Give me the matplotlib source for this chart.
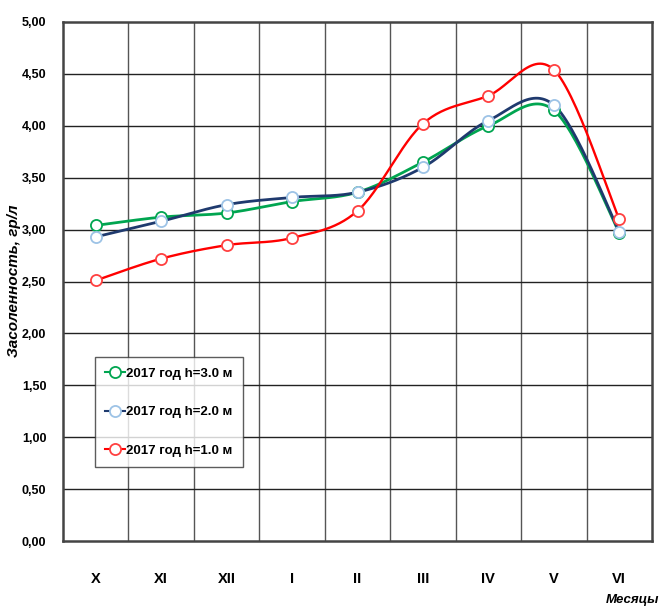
import numpy as np
import matplotlib
matplotlib.use("Agg")
import matplotlib.pyplot as plt
from matplotlib.lines import Line2D

months = ["X", "XI", "XII", "I", "II", "III", "IV", "V", "VI"]
h30 = [3.04, 3.12, 3.16, 3.27, 3.36, 3.65, 4.00, 4.15, 2.97]
h20 = [2.93, 3.08, 3.24, 3.31, 3.36, 3.60, 4.05, 4.20, 2.98]
h10 = [2.51, 2.72, 2.85, 2.92, 3.18, 4.02, 4.29, 4.54, 3.10]
labels = ["2017 год h=3.0 м", "2017 год h=2.0 м", "2017 год h=1.0 м"]
yticks = [0, 0.5, 1, 1.5, 2, 2.5, 3, 3.5, 4, 4.5, 5]

plt.rcParams['font.family'] = ['Liberation Sans Narrow', 'Liberation Sans', 'DejaVu Sans']


def smooth(x, y, n=30):
    x = np.asarray(x, float); y = np.asarray(y, float)
    P = np.column_stack([x, y])
    out = []
    for i in range(len(P) - 1):
        p0 = P[i - 1] if i > 0 else P[i]
        p1 = P[i]; p2 = P[i + 1]
        p3 = P[i + 2] if i + 2 < len(P) else P[i + 1]
        c1 = p1 + (p2 - p0) / 6
        c2 = p2 - (p3 - p1) / 6
        t = np.linspace(0, 1, n)[:, None]
        seg = (1 - t) ** 3 * p1 + 3 * (1 - t) ** 2 * t * c1 + 3 * (1 - t) * t ** 2 * c2 + t ** 3 * p2
        out.append(seg if i == 0 else seg[1:])
    s = np.vstack(out)
    return s[:, 0], s[:, 1]


fig = plt.figure(figsize=(6.61, 6.10), dpi=100)
ax = fig.add_axes([63 / 661, 1 - 541 / 610, 589 / 661, 519 / 610])
x = np.arange(len(months))

series = [
    (h30, "#00a550", "#00a550", 2.0),
    (h20, "#1f3a6e", "#9dc3e6", 2.0),
    (h10, "#ff0000", "#ff4040", 1.7),
]
handles = []
for (vals, lc, mc, lw), lab in zip(series, labels):
    sx, sy = smooth(x, vals)
    ax.plot(sx, sy, color=lc, lw=lw, zorder=3)
    ax.plot(x, vals, ls="none", marker="o", ms=8, mfc="white", mec=mc, mew=1.3, zorder=4)
    handles.append(Line2D([], [], color=lc, lw=1.5, marker="o", ms=8, mfc="white", mec=mc, mew=1.3))

ax.set_xlim(-0.5, len(months) - 0.5)
ax.set_ylim(0, 5)
ax.set_yticks(yticks)
ax.set_yticklabels([f"{v:.2f}".replace(".", ",") for v in yticks], fontsize=9, fontweight="bold")
ax.set_xticks(x)
ax.set_xticklabels(months, fontsize=10.5, fontweight="bold")
ax.tick_params(axis="both", length=0)
ax.tick_params(axis="y", pad=12)
ax.tick_params(axis="x", pad=22)

for b in np.arange(0.5, len(months) - 0.5, 1):
    ax.axvline(b, color="#555555", lw=1, zorder=1)
for v in yticks[1:-1]:
    ax.axhline(v, color="#222222", lw=1, zorder=1)
for s in ax.spines.values():
    s.set_color("#444444")
    s.set_linewidth(1.8)

fig.text(14 / 661, 1 - 281 / 610, "Засоленность, гр/л", fontsize=11, fontweight="bold",
         fontstyle="italic", rotation=90, ha="center", va="center")
fig.text(659 / 661, 1 - 600 / 610, "Месяцы", fontsize=9.5, fontweight="bold", fontstyle="italic",
         ha="right", va="center")

leg = ax.legend(handles, labels, loc="upper left", bbox_to_anchor=(0.054, 0.355),
                frameon=True, fancybox=False, edgecolor="#333333",
                prop={"weight": "bold", "size": 9.5}, handlelength=1.5, handletextpad=0.1,
                labelspacing=2.0, borderpad=0.8, borderaxespad=0)
leg.get_frame().set_linewidth(1.0)

fig.savefig("out.png", dpi=100)
